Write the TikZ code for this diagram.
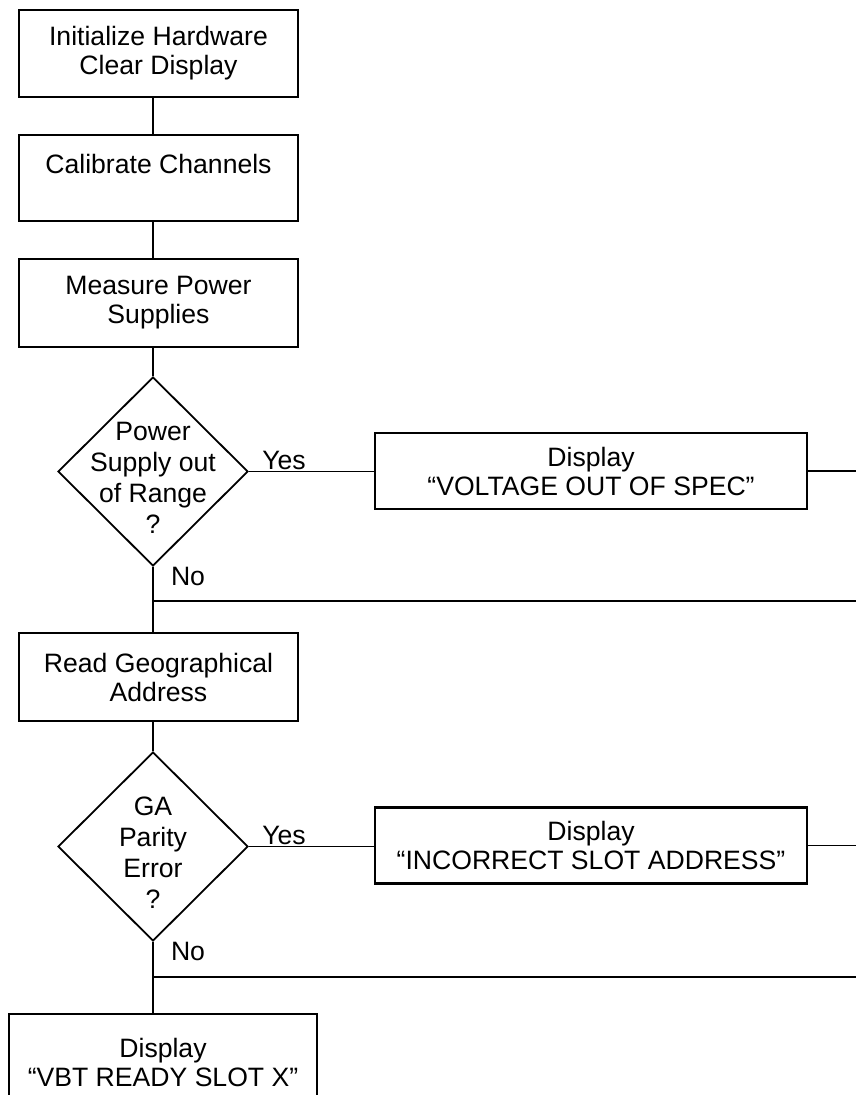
\documentclass[tikz,border=0pt]{standalone}
\usepackage{fontspec}
\setmainfont{Liberation Sans}
\usetikzlibrary{shapes.geometric}
\begin{document}
\begin{tikzpicture}[x=1pt,y=-1pt,
  txt/.style={font=\fontsize{26.6}{29}\selectfont},
  box/.style={txt, draw, line width=2.2pt, rectangle, align=center, inner sep=0pt},
  stdbox/.style={box, minimum width=279pt},
  dispbox/.style={box, minimum width=432pt, minimum height=76pt},
  dec/.style={draw, line width=1.8pt, diamond, inner sep=0pt, minimum width=190pt, minimum height=189pt},
  dectext/.style={font=\fontsize{26.6}{31}\selectfont, align=center, inner sep=0pt},
  conn/.style={line width=1.9pt},
  lbl/.style={txt, inner sep=0pt}]
\useasboundingbox (0,0) rectangle (856,1095);
\clip (0,0) rectangle (856,1095);

% process boxes
\node[stdbox, minimum height=87pt] (init) at (158.5,53.5) {Initialize Hardware\\Clear Display};
\node[stdbox, minimum height=86pt] (cal) at (158.5,178) {Calibrate Channels\\\mbox{}};
\node[stdbox, minimum height=88pt] (meas) at (158.5,303) {Measure Power\\Supplies};

% decision 1
\node[dec] (d1) at (153,471.5) {};
\node[dectext] (d1t) at (153,478) {Power\\Supply out\\of Range\\?};
\node[dispbox] (disp1) at (591,471) {Display\\“VOLTAGE OUT OF SPEC”};
\coordinate (j1) at (153,601);
\coordinate (e1) at (856,601);

\node[stdbox, minimum height=88pt] (geo) at (158.5,677) {Read Geographical\\Address};

% decision 2
\node[dec] (d2) at (153,846.5) {};
\node[dectext] (d2t) at (153,852.5) {GA\\Parity\\Error\\?};
\node[dispbox] (disp2) at (591,845.5) {Display\\“INCORRECT SLOT ADDRESS”};
\coordinate (j2) at (153,977);
\coordinate (e2) at (856,977);

\node[box, minimum width=308pt, minimum height=97pt] (ready) at (163,1062.5) {Display\\“VBT READY SLOT X”};

% labels
\node[lbl] (yes1) at (284,460) {Yes};
\node[lbl] (no1) at (188,576) {No};
\node[lbl] (yes2) at (284,835) {Yes};
\node[lbl] (no2) at (188,951) {No};

% connectors
\draw[conn] (init.south -| d1.north) -- (cal.north -| d1.north);
\draw[conn] (cal.south -| d1.north) -- (meas.north -| d1.north);
\draw[conn] (meas.south -| d1.north) -- (d1.north);
\draw[conn] (d1.east) -- (d1.east -| disp1.west);
\draw[conn] (disp1.east) -- (disp1.east -| e1);
\draw[conn] (d1.south) -- (j1) -- (geo.north -| j1);
\draw[conn] (j1) -- (e1);
\draw[conn] (geo.south -| d2.north) -- (d2.north);
\draw[conn] (d2.east) -- (d2.east -| disp2.west);
\draw[conn] (disp2.east) -- (disp2.east -| e2);
\draw[conn] (d2.south) -- (j2) -- (ready.north -| j2);
\draw[conn] (j2) -- (e2);
\end{tikzpicture}
\end{document}
